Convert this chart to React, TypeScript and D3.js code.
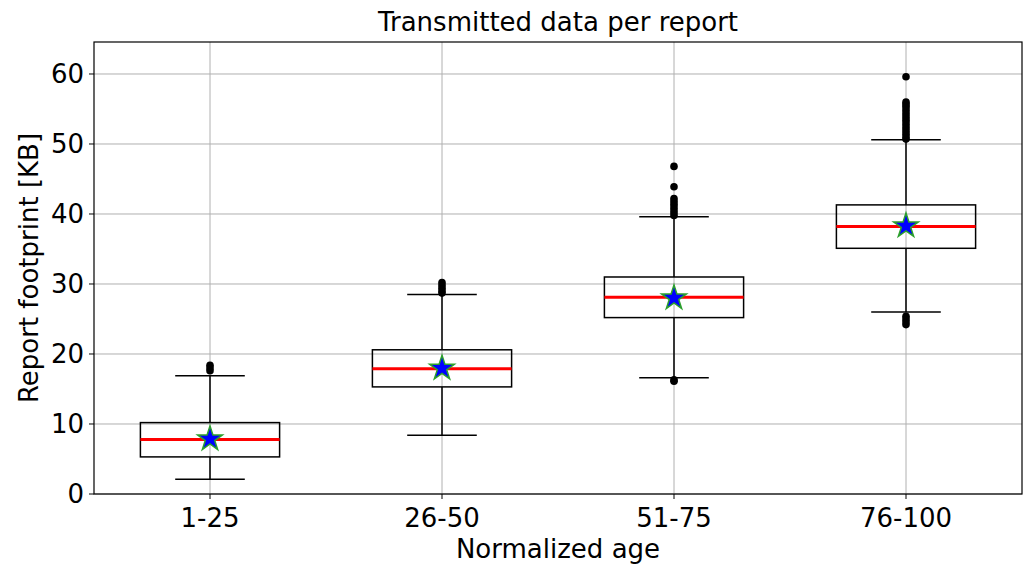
import React from "react";
import * as d3 from "d3";

const categories = ["1-25", "26-50", "51-75", "76-100"];
const q1 = [5.3, 15.3, 25.2, 35.1];
const medians = [7.8, 17.9, 28.1, 38.2];
const q3 = [10.2, 20.6, 31.0, 41.3];
const whiskerLow = [2.1, 8.4, 16.6, 26.0];
const whiskerHigh = [16.9, 28.5, 39.6, 50.6];
const means = [7.85, 17.95, 28.0, 38.3];
const outliers1 = [18.4, 18.0, 17.6];
const outliers2 = [30.2, 29.8, 29.4, 29.0, 28.7];
const outliers3 = [46.8, 43.9, 42.2, 41.8, 41.4, 41.0, 40.6, 40.2, 39.8, 16.3, 16.1];
const outliers4 = [
  59.6, 56.0, 55.7, 55.4, 55.0, 54.6, 54.2, 53.8, 53.4, 53.0, 52.6, 52.2, 51.8,
  51.4, 51.0, 50.7, 25.4, 25.0, 24.6, 24.2,
];
const outlierSets = [outliers1, outliers2, outliers3, outliers4];
const yTicks = [0, 10, 20, 30, 40, 50, 60];

const W = 1029;
const H = 565;
const L = 94;
const R = 1022;
const T = 42;
const B = 494;

function starPath(cx: number, cy: number, r: number) {
  const ri = r * 0.381966;
  const pts: string[] = [];
  for (let i = 0; i < 10; i++) {
    const rr = i % 2 === 0 ? r : ri;
    const a = (Math.PI / 5) * i - Math.PI / 2;
    pts.push(`${cx + rr * Math.cos(a)},${cy + rr * Math.sin(a)}`);
  }
  return "M" + pts.join("L") + "Z";
}

export default function App() {
  const x = d3.scaleLinear().domain([0.5, 4.5]).range([L, R]);
  const y = d3.scaleLinear().domain([0, 64.57]).range([B, T]);
  const bw = x(1.3) - x(1);
  const cw = x(1.15) - x(1);
  const font = "DejaVu Sans, sans-serif";
  const fs = 26;

  return (
    <svg
      width={W}
      height={H}
      style={{ position: "absolute", left: 0, top: 0, background: "#fff" }}
      fontFamily={font}
    >
      <rect x={0} y={0} width={W} height={H} fill="#fff" />
      {yTicks.map((t) => (
        <line key={"gy" + t} x1={L} x2={R} y1={y(t)} y2={y(t)} stroke="#b0b0b0" strokeWidth={1} />
      ))}
      {categories.map((c, i) => (
        <line key={"gx" + c} x1={x(i + 1)} x2={x(i + 1)} y1={T} y2={B} stroke="#b0b0b0" strokeWidth={1} />
      ))}
      {categories.map((c, i) => {
        const cx = x(i + 1);
        return (
          <g key={"b" + c}>
            <line x1={cx} x2={cx} y1={y(q3[i])} y2={y(whiskerHigh[i])} stroke="#000" strokeWidth={1.5} />
            <line x1={cx} x2={cx} y1={y(q1[i])} y2={y(whiskerLow[i])} stroke="#000" strokeWidth={1.5} />
            <line x1={cx - cw} x2={cx + cw} y1={y(whiskerHigh[i])} y2={y(whiskerHigh[i])} stroke="#000" strokeWidth={1.5} />
            <line x1={cx - cw} x2={cx + cw} y1={y(whiskerLow[i])} y2={y(whiskerLow[i])} stroke="#000" strokeWidth={1.5} />
            <rect
              x={cx - bw}
              y={y(q3[i])}
              width={2 * bw}
              height={y(q1[i]) - y(q3[i])}
              fill="none"
              stroke="#000"
              strokeWidth={1.5}
            />
            <line x1={cx - bw} x2={cx + bw} y1={y(medians[i])} y2={y(medians[i])} stroke="#ff0000" strokeWidth={3} />
            {outlierSets[i].map((v, k) => (
              <circle key={k} cx={cx} cy={y(v)} r={3.8} fill="#000" />
            ))}
            <path d={starPath(cx, y(means[i]), 13)} fill="#0000ff" stroke="#2ca02c" strokeWidth={1.5} strokeLinejoin="miter" />
          </g>
        );
      })}
      <rect x={L} y={T} width={R - L} height={B - T} fill="none" stroke="#000" strokeWidth={1.2} />
      {yTicks.map((t) => (
        <g key={"ty" + t}>
          <line x1={L - 5} x2={L} y1={y(t)} y2={y(t)} stroke="#000" strokeWidth={1} />
          <text x={L - 10} y={y(t)} dy="0.36em" textAnchor="end" fontSize={fs} fill="#000">
            {t}
          </text>
        </g>
      ))}
      {categories.map((c, i) => (
        <g key={"tx" + c}>
          <line x1={x(i + 1)} x2={x(i + 1)} y1={B} y2={B + 5} stroke="#000" strokeWidth={1} />
          <text x={x(i + 1)} y={527} textAnchor="middle" fontSize={fs} fill="#000">
            {c}
          </text>
        </g>
      ))}
      <text x={(L + R) / 2} y={558} textAnchor="middle" fontSize={fs} fill="#000">
        Normalized age
      </text>
      <text
        transform={`translate(38, ${(T + B) / 2}) rotate(-90)`}
        textAnchor="middle"
        fontSize={fs}
        fill="#000"
      >
        Report footprint [KB]
      </text>
      <text x={(L + R) / 2} y={31} textAnchor="middle" fontSize={fs} fill="#000">
        Transmitted data per report
      </text>
    </svg>
  );
}
